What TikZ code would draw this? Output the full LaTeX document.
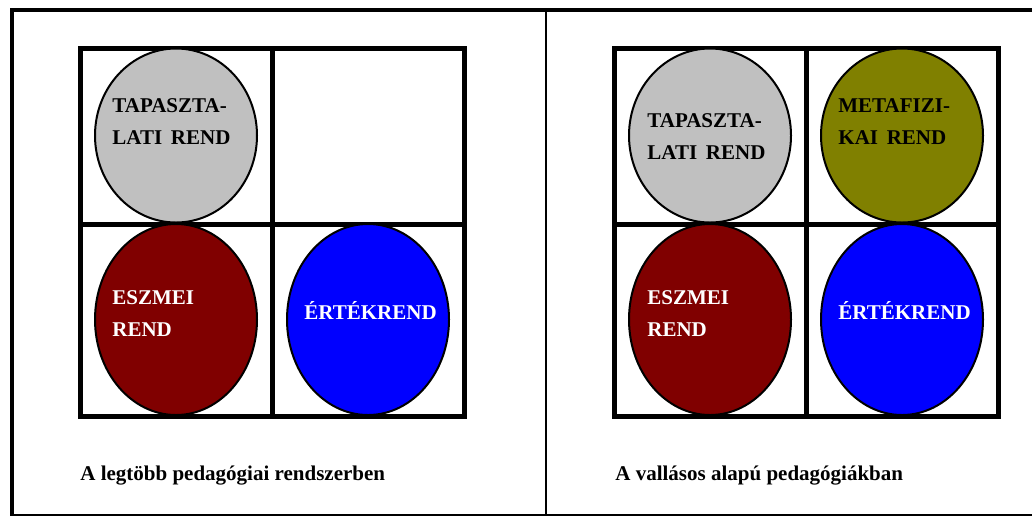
\documentclass[tikz,border=0pt]{standalone}
\usepackage{fontspec}
\setmainfont{Liberation Serif}
\usetikzlibrary{shapes.geometric}
\definecolor{tapgrey}{RGB}{192,192,192}
\definecolor{eszmaroon}{RGB}{128,0,0}
\definecolor{ertblue}{RGB}{0,0,255}
\definecolor{metolive}{RGB}{128,128,0}

\begin{document}
\begin{tikzpicture}[x=0.5pt,y=-0.5pt]
				\tikzstyle{every node}=[inner sep=0pt, font=\fontsize{10.5}{16}\selectfont\bfseries]
				\tikzstyle{rend}=[ellipse, draw, line width=1pt, minimum width=81pt]
				\tikzstyle{upper}=[rend, minimum height=87pt]
				\tikzstyle{lower}=[rend, minimum height=95.5pt]
				\tikzstyle{rendtext}=[anchor=north west, align=left]
				\tikzstyle{cellframe}=[line width=2.5pt]
				\tikzstyle{caption}=[anchor=base west]
				\useasboundingbox (0,0) rectangle (1032,516);
				% frame
				\draw[line width=2pt] (1032,10) -- (12,10) -- (12,516);
				\draw[line width=1.1pt] (12,515) -- (1032,515);
				\draw[line width=1.1pt] (546,10) -- (546,515);
				% left table
				\draw[cellframe] (80,48) rectangle (464,416);
				\draw[cellframe] (272,48) -- (272,416);
				\draw[cellframe] (80,224) -- (464,224);
				\node[upper, fill=tapgrey] (tapL) at (176,135.5) {};
				\node[lower, fill=eszmaroon] (eszL) at (176,319.5) {};
				\node[lower, fill=ertblue] (ertL) at (368,319.5) {};
				\node[rendtext] (tapLtext) at (112,98) {TAPASZTA-\\LATI\ \,REND};
				\node[rendtext, white] (eszLtext) at (112,290) {ESZMEI\\REND};
				\node[anchor=base west, white] (ertLtext) at (304,319) {ÉRTÉKREND};
				\node[caption] (capL) at (80,480) {A legtöbb pedagógiai rendszerben};
				% right table
				\draw[cellframe] (614,48) rectangle (998,416);
				\draw[cellframe] (806,48) -- (806,416);
				\draw[cellframe] (614,224) -- (998,224);
				\node[upper, fill=tapgrey] (tapR) at (710,135.5) {};
				\node[upper, fill=metolive] (metR) at (902,135.5) {};
				\node[lower, fill=eszmaroon] (eszR) at (710,319.5) {};
				\node[lower, fill=ertblue] (ertR) at (902,319.5) {};
				\node[rendtext] (tapRtext) at (647,113) {TAPASZTA-\\LATI\ \,REND};
				\node[rendtext] (metRtext) at (838,98) {METAFIZI-\\KAI\ \,REND};
				\node[rendtext, white] (eszRtext) at (647,290) {ESZMEI\\REND};
				\node[anchor=base west, white] (ertRtext) at (838,319) {ÉRTÉKREND};
				\node[caption] (capR) at (615,480) {A vallásos alapú pedagógiákban};
\end{tikzpicture}
\end{document}
